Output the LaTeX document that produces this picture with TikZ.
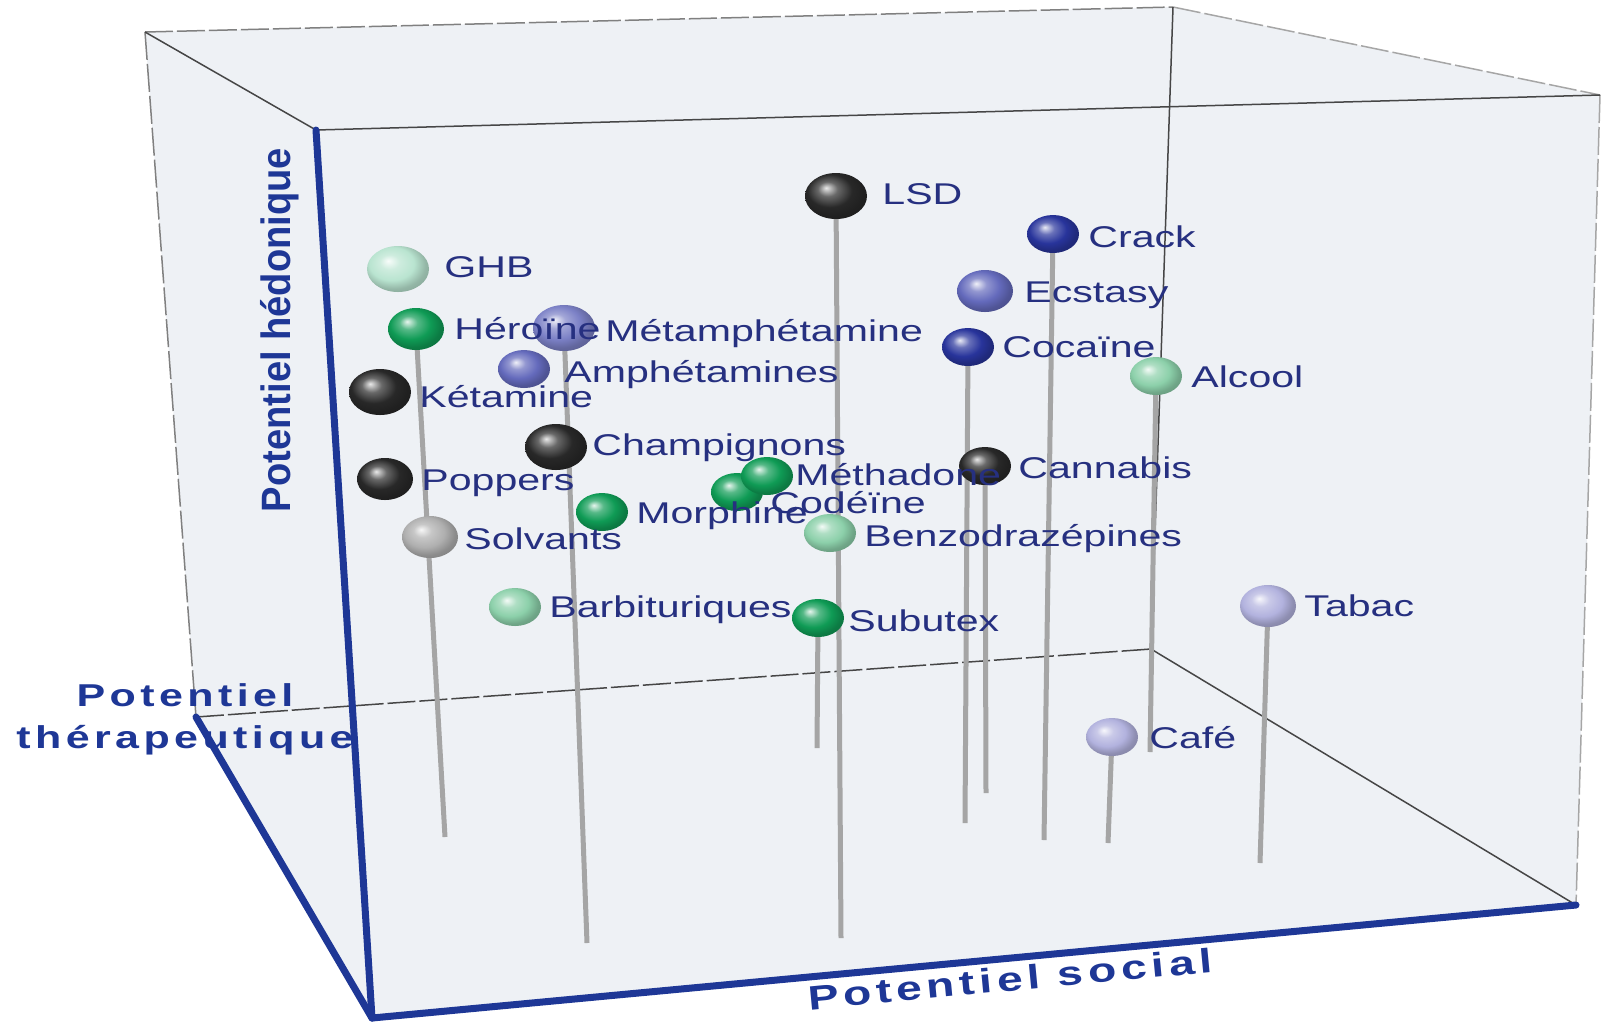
\documentclass[tikz,border=0pt]{standalone}
\usepackage{fontspec}
\setmainfont{Liberation Sans}[FakeStretch=1.37]
\newfontfamily\axisfont{Liberation Sans}[FakeStretch=1.36,LetterSpace=14]
\newfontfamily\hedfont{Liberation Sans}[FakeStretch=0.93]
\usetikzlibrary{shapes.geometric}

\definecolor{boxfill}{RGB}{238,241,245}
\definecolor{edgegray}{RGB}{70,70,70}
\definecolor{axisblue}{RGB}{30,55,150}
\definecolor{labelblue}{RGB}{38,48,128}
\definecolor{stemgray}{RGB}{165,165,165}
\definecolor{ballblack}{RGB}{40,40,40}
\definecolor{balldarkblue}{RGB}{40,52,155}
\definecolor{ballblue}{RGB}{100,106,188}
\definecolor{balllavender}{RGB}{178,178,222}
\definecolor{ballgreen}{RGB}{15,155,85}
\definecolor{balllightgreen}{RGB}{140,208,170}
\definecolor{ballpalegreen}{RGB}{185,228,208}
\definecolor{ballsilver}{RGB}{175,175,175}

% soft ball: highlight top left, rim only a little darker
\makeatletter
\pgfdeclareradialshading[tikz@ball]{softball}{\pgfqpoint{-8bp}{9bp}}{%
  color(0bp)=(tikz@ball!10!white);
  color(8bp)=(tikz@ball!70!white);
  color(18bp)=(tikz@ball);
  color(26bp)=(tikz@ball!80!black);
  color(50bp)=(tikz@ball!55!black)}
\makeatother

\pgfdeclarelayer{boxlayer}
\pgfdeclarelayer{stemlayer}
\pgfsetlayers{boxlayer,stemlayer,main}

\tikzset{every picture/.style={line width=0.75pt},
  drugball/.style={ellipse, inner sep=0pt},
  bcol/.style={ball color=#1, shading=softball},
  bigball/.style={drugball, minimum width=31pt, minimum height=23pt},
  midball/.style={drugball, minimum width=28pt, minimum height=21pt},
  smallball/.style={drugball, minimum width=26pt, minimum height=19pt},
  drug/.style={anchor=base west, inner sep=0pt, text=labelblue, font=\fontsize{15}{17}\selectfont},
  pinstem/.style={draw=stemgray, line width=2.5pt},
  boxedge/.style={draw=edgegray, line width=0.75pt},
  boxdash/.style={draw=gray, line width=0.75pt, dash pattern=on 14pt off 2pt},
  blueaxis/.style={draw=axisblue, line width=3.5pt, line cap=round},
  axislabel/.style={text=axisblue, inner sep=0pt}
}

\begin{document}
\begin{tikzpicture}[x=0.5pt,y=0.5pt,yscale=-1,xscale=1]
\useasboundingbox (0,0) rectangle (1606,1025);

%Corners of the box
\coordinate (btl) at (145,32);
\coordinate (btr) at (1173,7);
\coordinate (ftr) at (1600,95);
\coordinate (ftl) at (316,130);
\coordinate (fbl) at (372,1018);
\coordinate (fbr) at (1576,905);
\coordinate (bbl) at (196,717);
\coordinate (bbr) at (1151,649);

\begin{pgfonlayer}{boxlayer}
%Shape: Box
\fill [boxfill] (btl) -- (btr) -- (ftr) -- (fbr) -- (fbl) -- (bbl) -- cycle ;
\draw [boxdash] (btl) -- (btr) ;
\draw [boxdash, draw=gray!70] (btr) -- (ftr) ;
\draw [boxdash, draw=gray!70] (ftr) -- (fbr) ;
\draw [boxdash] (btl) -- (bbl) ;
\draw [boxdash, draw=edgegray] (bbl) -- (bbr) ;
\draw [boxedge] (btl) -- (ftl) ;
\draw [boxedge] (ftl) -- (ftr) ;
\draw [boxedge] (btr) -- (bbr) ;
\draw [boxedge] (bbr) -- (fbr) ;
\end{pgfonlayer}

%Straight Lines: axes
\draw [blueaxis] (ftl) -- (fbl) ;
\draw [blueaxis] (bbl) -- (fbl) ;
\draw [blueaxis] (fbl) -- (fbr) ;

%Shape: Balls
\node [bigball, bcol=ballpalegreen] (ghb) at (398,269) {};
\node [midball, bcol=ballgreen] (heroine) at (416,329) {};
\node [bigball, bcol=ballblue!85!white] (metamph) at (564,328) {};
\node [smallball, bcol=ballblue] (amph) at (524,369) {};
\node [bigball, bcol=ballblack] (ketamine) at (380,392) {};
\node [bigball, bcol=ballblack] (champi) at (556,447) {};
\node [midball, bcol=ballblack] (poppers) at (385,479) {};
\node [smallball, bcol=ballgreen] (codeine) at (737,492) {};
\node [smallball, bcol=ballgreen] (methadone) at (767,476) {};
\node [smallball, bcol=ballgreen] (morphine) at (602,512) {};
\node [midball, bcol=ballsilver] (solvants) at (430,537) {};
\node [smallball, bcol=balllightgreen] (benzo) at (830,533) {};
\node [smallball, bcol=balllightgreen] (barbi) at (515,607) {};
\node [smallball, bcol=ballgreen] (subutex) at (818,618) {};
\node [bigball, bcol=ballblack] (lsd) at (836,196) {};
\node [smallball, bcol=balldarkblue] (crack) at (1053,234) {};
\node [midball, bcol=ballblue] (ecstasy) at (985,291) {};
\node [smallball, bcol=balldarkblue] (cocaine) at (968,347) {};
\node [smallball, bcol=balllightgreen] (alcool) at (1156,376) {};
\node [smallball, bcol=ballblack] (cannabis) at (985,466) {};
\node [midball, bcol=balllavender] (tabac) at (1268,606) {};
\node [smallball, bcol=balllavender] (cafe) at (1112,737) {};

%Straight Lines: stems
\coordinate (heroine-foot) at (445,837);
\coordinate (metamph-foot) at (587,943);
\coordinate (lsd-foot) at (841,938);
\coordinate (subutex-foot) at (817,748);
\coordinate (cocaine-foot) at (965,823);
\coordinate (cannabis-foot) at (986,793);
\coordinate (crack-foot) at (1044,840);
\coordinate (alcool-foot) at (1150,752);
\coordinate (cafe-foot) at (1108,843);
\coordinate (tabac-foot) at (1260,863);
\begin{pgfonlayer}{stemlayer}
\foreach \d in {heroine,metamph,lsd,subutex,cocaine,cannabis,crack,alcool,cafe,tabac}
  \draw [pinstem] (\d.center) -- (\d-foot) ;
\end{pgfonlayer}

% Text Node
\node [drug] (ghb-l) at (444,277) {GHB};
\node [drug] (heroine-l) at (454,339) {Héroïne};
\node [drug] (metamph-l) at (605,341) {Métamphétamine};
\node [drug] (amph-l) at (564,382) {Amphétamines};
\node [drug] (ketamine-l) at (419,407) {Kétamine};
\node [drug] (champi-l) at (592,455) {Champignons};
\node [drug] (poppers-l) at (421,490) {Poppers};
\node [drug] (methadone-l) at (795,485) {Méthadone};
\node [drug] (codeine-l) at (770,513) {Codéïne};
\node [drug] (morphine-l) at (636,523) {Morphine};
\node [drug] (solvants-l) at (464,549) {Solvants};
\node [drug] (benzo-l) at (864,546) {Benzodrazépines};
\node [drug] (barbi-l) at (549,617) {Barbituriques};
\node [drug] (subutex-l) at (848,631) {Subutex};
\node [drug] (lsd-l) at (882,204) {LSD};
\node [drug] (crack-l) at (1088,247) {Crack};
\node [drug] (ecstasy-l) at (1024,302) {Ecstasy};
\node [drug] (cocaine-l) at (1002,357) {Cocaïne};
\node [drug] (alcool-l) at (1191,387) {Alcool};
\node [drug] (cannabis-l) at (1018,478) {Cannabis};
\node [drug] (tabac-l) at (1304,616) {Tabac};
\node [drug] (cafe-l) at (1149,748) {Café};

% Text Node: axis titles
\node [axislabel, rotate=90, font=\hedfont\bfseries\fontsize{20.5}{24}\selectfont] (hedo) at (280,330) {Potentiel hédonique};
\node [axislabel, align=center, font=\axisfont\bfseries\fontsize{15.8}{21}\selectfont] (thera) at (185,719) {Potentiel\\thérapeutique};
\node [axislabel, rotate=5.4, font=\axisfont\bfseries\fontsize{17}{20}\selectfont] (social) at (1010,979) {Potentiel social};

\end{tikzpicture}
\end{document}
